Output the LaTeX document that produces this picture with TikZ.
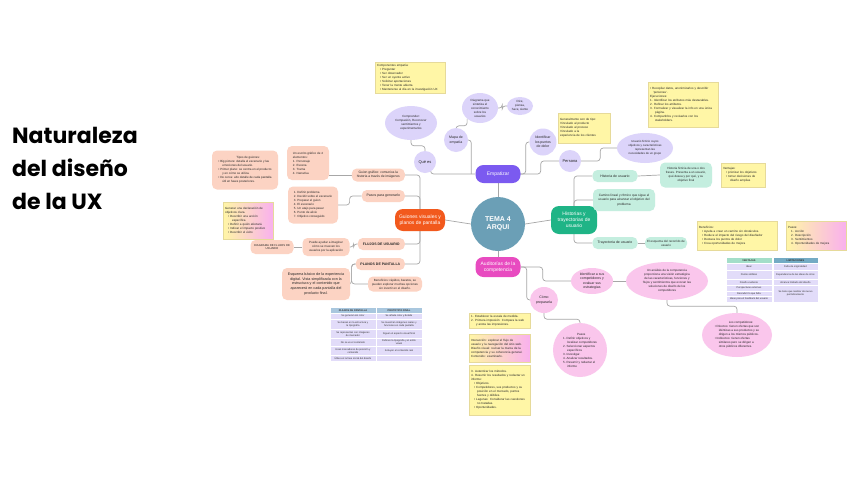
\documentclass[tikz,border=0pt]{standalone}
\usepackage{fontspec}
\setmainfont{Liberation Sans}
\newfontfamily\titlefont{Poppins}
\usepackage{tikz}
\usetikzlibrary{shapes,positioning,backgrounds}
\definecolor{temablue}{HTML}{6B9FB6}
\definecolor{empurple}{HTML}{7B5AF0}
\definecolor{guiorange}{HTML}{F2591D}
\definecolor{histgreen}{HTML}{1FB486}
\definecolor{audpink}{HTML}{E84BC0}
\definecolor{lavfill}{HTML}{DCD4FA}
\definecolor{salfill}{HTML}{FCD3C3}
\definecolor{mintfill}{HTML}{C4EEDF}
\definecolor{pinkfill}{HTML}{FAC6EC}
\definecolor{noteyellow}{HTML}{FFF6A6}
\definecolor{noteedge}{HTML}{E6DA9A}
\definecolor{notepink}{HTML}{F9B0EE}
\definecolor{linegray}{HTML}{A7A7A7}
\definecolor{cellfill}{HTML}{E2DCF9}
\definecolor{headblue}{HTML}{A9C7DE}
\definecolor{headmint}{HTML}{A3DEC9}
\definecolor{headsteel}{HTML}{74ABC4}
\newcommand\tinyfs{\fontsize{3}{4}\selectfont}
\newcommand\smallfs{\fontsize{3.5}{4.3}\selectfont}
\newcommand\topicfs{\fontsize{5}{6}\selectfont}
\newcommand\cellfs{\fontsize{2.5}{3.1}\selectfont}

\begin{document}
\begin{tikzpicture}[
    x=1pt, y=-1pt,
    topic/.style={rectangle, rounded corners=8pt, text=white, font=\topicfs, align=center, inner sep=1pt},
    bubble/.style={circle, fill=lavfill, text=black!85, font=\smallfs, align=center, inner sep=0.5pt},
    lavell/.style={ellipse, fill=lavfill, text=black!85, font=\tinyfs, align=center, inner sep=0pt},
    salbox/.style={rectangle, rounded corners=5pt, fill=salfill, text=black!85, font=\smallfs, align=center, inner sep=1.5pt},
    mintbox/.style={salbox, fill=mintfill},
    pinkell/.style={ellipse, fill=pinkfill, text=black!85, font=\smallfs, align=center, inner sep=0pt},
    note/.style={rectangle, anchor=north west, fill=noteyellow, draw=noteedge, line width=0.3pt, text=black!85, font=\tinyfs, align=left, inner sep=2pt},
    gradnote/.style={note, left color=noteyellow, right color=notepink},
    cell/.style={rectangle, anchor=north west, fill=cellfill, draw=white, line width=0.4pt, text=black!80, font=\cellfs, align=center, inner sep=0pt, minimum width=45.5pt},
    link/.style={draw=linegray, line width=0.7pt, rounded corners=3pt}
]
\useasboundingbox (0,0) rectangle (848,477);

% Title
\node[anchor=north west, inner sep=0pt, align=left, font=\titlefont\bfseries\fontsize{22}{33}\selectfont] (titulo) at (12,127) {Naturaleza\\del diseño\\de la UX};

% Centre and main topics
\node[circle, fill=temablue, minimum size=54pt, text=white, font=\bfseries\fontsize{7}{8.5}\selectfont, align=center] (tema) at (498,224) {TEMA 4\\ARQUI};
\node[topic, fill=empurple, minimum width=45pt, minimum height=18pt] (empatizar) at (498,174) {Empatizar};
\node[topic, fill=guiorange, minimum width=50pt, minimum height=22pt] (guiones) at (420,220) {Guiones visuales y\\planos de pantalla};
\node[topic, fill=histgreen, minimum width=46pt, minimum height=28pt] (historias) at (574,220) {Historias y\\trayectorias de\\usuario};
\node[topic, fill=audpink, minimum width=45pt, minimum height=20pt] (auditorias) at (498,267) {Auditorías de la\\competencia};

% Empatizar
\node[bubble, minimum size=22pt, font=\fontsize{4}{5}\selectfont] (quees) at (425,162) {Qué es};
\node[lavell, minimum width=52pt, minimum height=34pt] (comprender) at (411,123) {Comprender:\\Compasión, Reconocer\\sentimientos y\\experimentarlos};
\node[bubble, minimum size=24pt] (mapa) at (456,140) {Mapa de\\empatía};
\node[lavell, minimum width=36pt, minimum height=30pt] (diagrama) at (480,108) {Diagrama que\\sintetiza el\\conocimiento\\sobre los\\usuarios};
\node[lavell, minimum width=26pt, minimum height=18pt] (dice) at (520,106) {Dice,\\piensa,\\hace, siente};
\node[bubble, minimum size=27pt] (dolor) at (543,142) {Identificar\\los puntos\\de dolor};
\node[bubble, minimum size=22pt, font=\fontsize{4}{5}\selectfont] (persona) at (570,161) {Persona};
\node[lavell, minimum width=56pt, minimum height=30pt, font=\fontsize{2.9}{4}\selectfont] (arquetipo) at (645,148) {Usuario ficticio cuyos\\objetivos y características\\representan las\\necesidades de un grupo};

\node[note, text width=66pt] (compnote) at (375,62) {Componentes empatía:\\
  \hspace*{3pt}\textbullet\ Preguntar\\
  \hspace*{3pt}\textbullet\ Ser observador\\
  \hspace*{3pt}\textbullet\ Ser un oyente activo\\
  \hspace*{3pt}\textbullet\ Solicitar aportaciones\\
  \hspace*{3pt}\textbullet\ Tener la mente abierta\\
  \hspace*{3pt}\textbullet\ Mantenerse al día en la investigación UX};
\node[note, text width=48pt, minimum height=30pt] (dolornote) at (558,113) {Generalmente son de tipo:\\Vinculado al producto\\Vinculado al proceso\\Vinculado a la\\experiencia de los clientes};
\node[note, text width=66pt, minimum height=45pt] (personanote) at (648,82) {\textbullet\ Recopilar datos, anonimizarlos y describir\\
  \hspace*{3pt}'personas'.\\Ejecuciones:\\
  1. Identificar los atributos más destacables.\\
  2. Refinar los atributos.\\
  3. Formalizar y visualizar la info en una única\\\hspace*{5pt}página.\\
  4. Compartirlos y revisarlos con los\\\hspace*{5pt}stakeholders.};

% Historias y trayectorias
\node[mintbox, minimum width=45pt, minimum height=12pt] (histusu) at (615,176) {Historia de usuario};
\node[mintbox, minimum width=52pt, minimum height=25pt, font=\tinyfs] (ficticia) at (686,175) {Historia ficticia de una o dos\\frases. Presenta a un usuario,\\qué desea y por qué, y su\\objetivo final};
\node[mintbox, minimum width=62pt, minimum height=22pt, font=\fontsize{3.2}{4.2}\selectfont] (camino) at (624,200) {Camino lineal y rítmico que sigue el\\usuario para alcanzar el objetivo del\\problema};
\node[mintbox, minimum width=45pt, minimum height=12pt] (trayectoria) at (615,243) {Trayectoria de usuario};
\node[mintbox, minimum width=42pt, minimum height=12pt, font=\tinyfs] (recorrido) at (666,243) {El esquema del recorrido de\\usuario};

\node[note, text width=40pt, minimum height=24pt] (ventajas) at (721,163) {Ventajas:\\
  \hspace*{3pt}\textbullet\ priorizar los objetivos\\
  \hspace*{3pt}\textbullet\ tomar decisiones de\\\hspace*{7pt}diseño amplias};
\node[note, text width=76pt, minimum height=29pt] (benefnote) at (697,221) {Beneficios:\\
  \hspace*{3pt}\textbullet\ Ayuda a crear un camino sin obstáculos.\\
  \hspace*{3pt}\textbullet\ Reduce el impacto del riesgo del diseñador\\
  \hspace*{3pt}\textbullet\ Destaca los puntos de dolor\\
  \hspace*{3pt}\textbullet\ Crea oportunidades de mejora};
\node[gradnote, text width=56pt, minimum height=29pt] (pasosnote) at (786,221) {Pasos:\\
  \hspace*{3pt}1. Acción\\\hspace*{3pt}2. Descripción\\\hspace*{3pt}3. Sentimientos\\\hspace*{3pt}4. Oportunidades de mejora};

% Tabla ventajas / limitaciones
\node[cell, fill=headmint, minimum height=6pt, font=\bfseries\cellfs] (tva) at (726,257) {VENTAJAS};
\node[cell, fill=headsteel, minimum height=6pt, font=\bfseries\cellfs] (tvb) at (772.5,257) {LIMITACIONES};
\foreach \y/\h/\t [count=\i] in {263/7/{Idear}, 270/9/{Puntos débiles}, 279/6/{Diseño evidente},
    285/5.5/{Perspectivas externas}, 290.5/5.5/{Descubrir lo que falta}, 296/6/{Ideas para el feedback del usuario}}
  \node[cell, minimum height=\h*1pt] (va\i) at (726,\y) {\t};
\foreach \y/\h/\t [count=\i] in {263/7/{Falta de originalidad}, 270/9/{Dependencia de las ideas de otros},
    279/6/{Alcance limitado del diseño}, 285/17/{Se tiene que realizar de nuevo\\periódicamente}}
  \node[cell, minimum height=\h*1pt] (vb\i) at (772.5,\y) {\t};

% Auditorías de la competencia
\node[pinkell, minimum width=42pt, minimum height=26pt] (competidores) at (592,281) {Identificar a sus\\competidores y\\evaluar sus\\estrategias};
\node[pinkell, minimum width=82pt, minimum height=38pt, font=\tinyfs] (analisis) at (667,281) {Un análisis de la competencia\\proporciona una visión estratégica\\de las características, funciones y\\flujos y sentimientos que evocan las\\soluciones de diseño de los\\competidores};
\node[pinkell, minimum width=70pt, minimum height=44pt, font=\tinyfs, align=left] (loscomp) at (737,335) {\hspace*{14pt}Los competidores:\\
  \textbullet\ Directos: tienen ofertas que son\\\hspace*{4pt}idénticas a sus productos y se\\\hspace*{4pt}dirigen a los mismos públicos.\\
  \textbullet\ Indirectos: tienen ofertas\\\hspace*{4pt}similares pero se dirigen a\\\hspace*{4pt}otros públicos diferentes.};
\node[pinkell, minimum width=28pt, minimum height=26pt] (comoprep) at (544,300) {Cómo\\prepararla};
\node[pinkell, circle, minimum size=54pt, font=\tinyfs, align=left] (pasoscirc) at (580,350) {\hspace*{14pt}Pasos\\
  1. Definir objetivos y\\\hspace*{4pt}localizar competidores\\
  2. Seleccionar aspectos\\\hspace*{4pt}específicos\\
  3. Investigar.\\4. Analizar resultados.\\
  5. Resumir y redactar el\\\hspace*{4pt}informe};

\node[note, text width=57pt] (escala) at (469,313) {1. Establecer la escala de medida.\\
  2. Primera impresión: Compara la web\\\hspace*{5pt}y anota las impresiones.};
\node[gradnote, text width=57pt, minimum height=28pt] (interaccion) at (469,334) {Interacción: explorar el flujo de\\usuario y la navegación del sitio web.\\Diseño visual: revisar la marca de la\\competencia y su coherencia general.\\Contenido: examinarlo.};
\node[note, text width=57pt, minimum height=50pt] (informe) at (469,365) {3. Autenticar los métodos.\\
  4. Resumir los resultados y redactar un\\informe:\\
  \hspace*{3pt}\textbullet\ Objetivos.\\
  \hspace*{3pt}\textbullet\ Competidores, sus productos y su\\\hspace*{6pt}posición en el mercado, puntos\\\hspace*{6pt}fuertes y débiles.\\
  \hspace*{3pt}\textbullet\ Lagunas: Considerar las cuestiones\\\hspace*{6pt}no tratadas.\\
  \hspace*{3pt}\textbullet\ Oportunidades.};

% Guiones visuales y planos de pantalla
\node[salbox, anchor=east, minimum width=53pt, minimum height=13pt, font=\fontsize{3.3}{4}\selectfont] (guiongraf) at (405,175) {Guion gráfico: comunica la\\historia a través de imágenes};
\node[salbox, anchor=east, minimum width=43pt, minimum height=12pt] (pasosgen) at (405,196) {Pasos para generarlo};
\node[salbox, anchor=east, minimum width=47pt, minimum height=12pt, font=\bfseries\smallfs] (flujos) at (405,244) {FLUJOS DE USUARIO};
\node[salbox, anchor=east, minimum width=49pt, minimum height=12pt, font=\bfseries\smallfs] (planos) at (405,264) {PLANOS DE PANTALLA};

\node[salbox, minimum width=42pt, minimum height=34pt, font=\tinyfs, align=left] (elementos) at (308,163) {Un escrito gráfico de 4\\elementos:\\1. Personaje\\2. Escena\\3. Trama\\4. Narrativa};
\node[salbox, minimum width=66pt, minimum height=39pt, font=\tinyfs, align=left] (tipos) at (245,170) {\hspace*{18pt}Tipos de guiones:\\
  \textbullet\ Big picture: detalla el escenario y las\\\hspace*{4pt}emociones del usuario.\\
  \textbullet\ Primer plano: se centra en el producto\\\hspace*{4pt}y en cómo se utiliza.\\
  \textbullet\ De cerca: alto detalle de cada pantalla\\\hspace*{4pt}útil en fases posteriores.};
\node[salbox, minimum width=50pt, minimum height=37pt, font=\tinyfs, align=left] (siete) at (313,205) {1. Definir problema\\2. Decidir sobre el escenario\\3. Preparar el guion\\4. El escenario\\5. Un atajo para pasar\\6. Punto de alivio\\7. Objetivo conseguido};
\node[gradnote, text width=46pt, minimum height=37pt] (declaracion) at (223,202) {Generar una declaración de\\objetivos clara.\\
  \hspace*{3pt}\textbullet\ Describir una acción\\\hspace*{7pt}específica\\
  \hspace*{3pt}\textbullet\ Definir a quién afectará\\
  \hspace*{3pt}\textbullet\ Indicar el impacto positivo\\
  \hspace*{3pt}\textbullet\ Describir el éxito};
\node[salbox, minimum width=47pt, minimum height=18pt, font=\tinyfs] (puede) at (326,247) {Puede ayudar a imaginar\\cómo se mueven los\\usuarios por la aplicación};
\node[salbox, minimum width=43pt, minimum height=14pt, font=\fontsize{2.8}{3.6}\selectfont] (diagflujo) at (272,247) {DIAGRAMA DE FLUJOS DE\\USUARIO};
\node[salbox, minimum width=68pt, minimum height=32pt, font=\fontsize{3.7}{4.7}\selectfont] (esqbox) at (316,284) {Esquema básico de la experiencia\\digital. Vista simplificada con la\\estructura y el contenido que\\aparecerá en cada pantalla del\\producto final.};
\node[salbox, minimum width=54pt, minimum height=15pt, font=\tinyfs] (rapidos) at (395,284) {Beneficios: rápidos, baratos, se\\pueden explorar muchas opciones\\sin invertir en el diseño.};

% Tabla planos / prototipo
\node[cell, fill=headblue, minimum height=6pt, font=\bfseries\cellfs] (tpa) at (330,307) {PLANOS DE PANTALLA};
\node[cell, fill=headblue, minimum height=6pt, font=\bfseries\cellfs] (tpb) at (376,307) {PROTOTIPO FINAL};
\foreach \y/\h/\a/\b [count=\i] in {313/6/{Se generan sin color}/{Se añade color y detalle},
    319/10/{Se basan en la estructura y\\la tipografía}/{Se muestran imágenes reales y\\funciones en cada pantalla},
    329/9/{Se representan con imágenes\\de marcador}/{Siguen el aspecto visual final},
    338/8/{No se ve el contenido}/{Definen la tipografía y el estilo\\visual},
    346/9/{Usan marcadores de posición y\\contenido}/{Incluyen el contenido real},
    355/6/{Útiles en la fase inicial del diseño}/{}}{
  \node[cell, minimum height=\h*1pt] (pa\i) at (330,\y) {\a};
  \node[cell, minimum height=\h*1pt] (pb\i) at (376,\y) {\b};
}

% Connectors
\begin{scope}[on background layer]
\fill[white] (0,0) rectangle (848,477);
\draw[link] (tema.north) -- (empatizar.south);
\draw[link] (tema.west) -- (guiones.east);
\draw[link] (tema.east) -- (historias.west);
\draw[link] (tema.south) -- (auditorias.north);

\draw[link] (empatizar.west) -| (quees.-60);
\draw[link] ([xshift=-4pt]empatizar.west) |- (mapa.east);
\draw[link] (mapa.north) -- ++(0,-2) -| (diagrama.south west);
\draw[link] (diagrama.east) -- ++(4,0) |- (dice.west);
\draw[link] (quees.north) -- ++(0,-5) -| (comprender.south);
\draw[link] (empatizar.east) -- ++(5,0) |- (dolor.west);
\draw[link] (empatizar.east) -- ++(20,0) |- (persona.west);
\draw[link] (persona.east) -- ++(19,0) |- (arquetipo.west);

\draw[link] (historias.north) |- (histusu.west);
\draw[link] (historias.north) |- (camino.west);
\draw[link] (historias.south) |- (trayectoria.west);
\draw[link] (histusu.east) -- (ficticia.west);
\draw[link] (trayectoria.east) -- (recorrido.west);

\draw[link] (guiones.north) |- (guiongraf.east);
\draw[link] (guiones.north) |- (pasosgen.east);
\draw[link] (guiones.south) |- (flujos.east);
\draw[link] (guiones.south) |- (planos.east);
\draw[link] (guiongraf.west) -- (guiongraf.west -| elementos.east);
\draw[link] (pasosgen.west) -- ++(-12,0) |- (siete.east);
\draw[link] (flujos.west) -- ++(-4,0) |- (puede.east);
\draw[link] (puede.west) -- (diagflujo.east);
\draw[link] (planos.west) -- ++(-4,0) |- (esqbox.east);
\draw[link] (planos.west) -- ++(-4,0) |- (rapidos.west);

\draw[link] (auditorias.east) -- ++(22,0) |- (competidores.west);
\draw[link] (auditorias.east) -- ++(6,0) |- (comoprep.west);
\draw[link] (competidores.east) -- (analisis.west);
\draw[link] (analisis.south) -- ++(0,6) -| (loscomp.north);
\draw[link] (comoprep.south) -- ++(0,6) -| (pasoscirc.north);
\end{scope}
\end{tikzpicture}
\end{document}
